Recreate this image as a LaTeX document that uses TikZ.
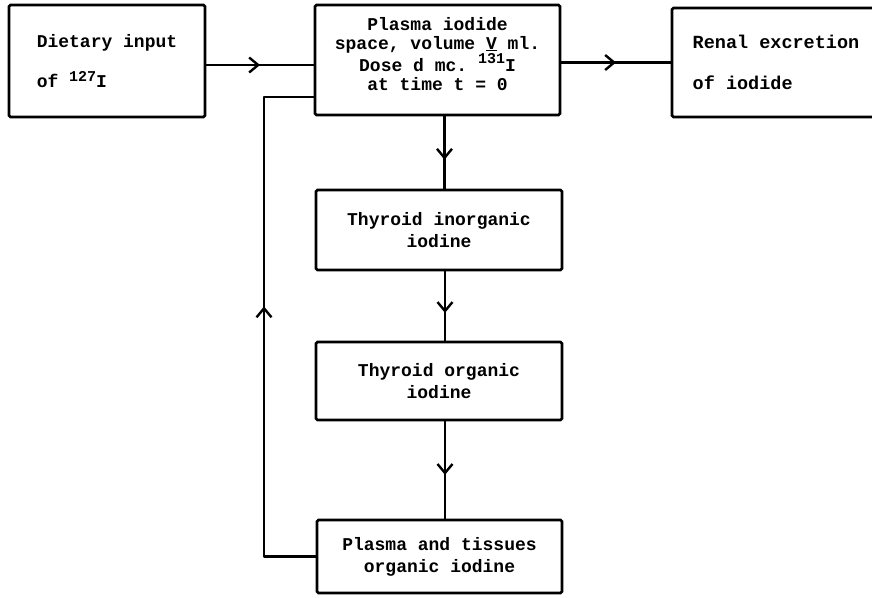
\documentclass[tikz,border=0pt]{standalone}
\usepackage{fontspec}
\setmonofont{Liberation Mono}
\usetikzlibrary{arrows.meta,decorations.markings}
\begin{document}
\begin{tikzpicture}[x=1pt,y=-1pt,
  box/.style={draw, line width=2.8pt, rounded corners=1.5pt, inner sep=0pt,
    font=\ttfamily\bfseries\fontsize{18}{19}\selectfont, align=center},
  txt/.style={inner sep=0pt, font=\ttfamily\bfseries\fontsize{18}{19}\selectfont, align=center},
  conn/.style={line width=2.4pt, line join=round},
  midarrow/.style={postaction={decorate}, decoration={markings,
    mark=at position #1 with {\arrow{Straight Barb[length=9pt,width=15pt]}}}}
]
\useasboundingbox (0,0) rectangle (872,597);

\node[box, minimum width=196pt, minimum height=112pt, align=left,
  font=\ttfamily\bfseries\fontsize{18}{40}\selectfont] (b1) at (107,61)
  {Dietary input\\ of \raisebox{6pt}{\fontsize{15}{15}\selectfont 127}I};

\node[box, minimum width=245pt, minimum height=110pt] (b2) at (437.5,60) {};
\node[txt] (b2t) at ([yshift=6pt]b2.center)
  {Plasma iodide\\space, volume \underline{V} ml.\\Dose d mc. \raisebox{8pt}{\fontsize{15}{15}\selectfont 131}I\\at time t = 0};

\node[box, minimum width=208pt, minimum height=109pt, align=left,
  font=\ttfamily\bfseries\fontsize{18.5}{41}\selectfont] (b3) at (776,62.5)
  {Renal excretion\\of iodide};

\node[box, minimum width=246pt, minimum height=80pt,
  font=\ttfamily\bfseries\fontsize{18}{22}\selectfont] (b4) at (439,230)
  {Thyroid inorganic\\iodine};
\node[box, minimum width=246pt, minimum height=78pt,
  font=\ttfamily\bfseries\fontsize{18}{22}\selectfont] (b5) at (439,381)
  {Thyroid organic\\iodine};
\node[box, minimum width=245pt, minimum height=73pt,
  font=\ttfamily\bfseries\fontsize{18}{22}\selectfont] (b6) at (439.5,556.5)
  {Plasma and tissues\\organic iodine};

\coordinate (fbx) at (264,0);
\coordinate (f2) at ([yshift=-37pt]b2.west);

\draw[conn, midarrow=0.5] ([yshift=-4pt]b1.east) coordinate (a1) -- (a1 -| b2.west);
\draw[conn, midarrow=0.5] (b2.east |- b3.west) -- (b3.west);
\draw[conn, midarrow=0.6] ([xshift=7pt]b2.south) coordinate (a2) -- (a2 |- b4.north);
\draw[conn, midarrow=0.6] ([xshift=6pt]b4.south) coordinate (a3) -- (a3 |- b5.north);
\draw[conn, midarrow=0.55] ([xshift=6pt]b5.south) coordinate (a4) -- (a4 |- b6.north);
\draw[conn, midarrow=0.538] (b6.west) -| (fbx |- f2) -- (f2);
\end{tikzpicture}
\end{document}
